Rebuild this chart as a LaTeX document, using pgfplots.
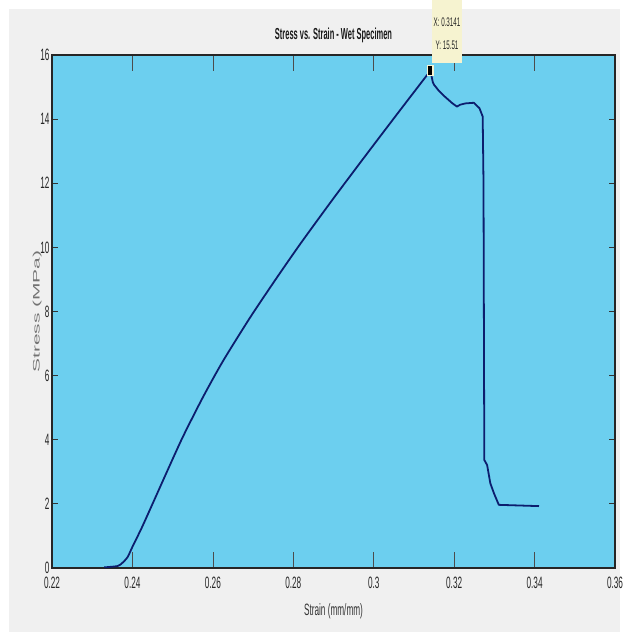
\documentclass[border=0pt]{standalone}
\usepackage{pgfplots}
\pgfplotsset{compat=1.18}
\usepackage{fontspec}
\setmainfont[FakeStretch=0.5]{Liberation Sans}
\newfontfamily\ylfont{Liberation Sans}
\newfontfamily\titlefont[FakeStretch=0.47]{Liberation Sans Bold}
\definecolor{figbg}{RGB}{240,240,240}
\definecolor{axbg}{RGB}{108,207,239}
\definecolor{curve}{RGB}{12,30,110}
\definecolor{tipbg}{RGB}{246,243,208}
\begin{document}
\begin{tikzpicture}
\fill[white] (-52bp,-64bp) rectangle (588bp,568bp);
\fill[figbg] (-43bp,-64bp) rectangle (568bp,559bp);
\begin{axis}[
  at={(0,0)}, anchor=south west,
  scale only axis, width=563bp, height=513bp,
  xmin=0.22, xmax=0.36, ymin=0, ymax=16,
  axis background/.style={fill=axbg},
  axis line style={draw=black!85, line width=1.2pt},
  xtick={0.22,0.24,...,0.36},
  xticklabels={0.22,0.24,0.26,0.28,0.3,0.32,0.34,0.36},
  ytick={0,2,...,16},
  yticklabels={0,2,4,6,8,10,12,14,16},
  tick align=inside,
  xtick style={draw=black!70, line width=0.6pt, /pgfplots/major tick length=16bp},
  ytick style={draw=black!80, line width=0.9pt, /pgfplots/major tick length=6bp},
  tick label style={font=\fontsize{16.5}{16.5}\selectfont, text=black!85},
  xticklabel style={yshift=-6bp},
  yticklabel style={xshift=1bp},
  title={\titlefont\fontsize{16}{16}\selectfont Stress vs. Strain - Wet Specimen},
  title style={at={(0.5,1)}, yshift=3bp, text=black!90},
  xlabel={\fontsize{16.5}{16.5}\selectfont Strain (mm/mm)},
  xlabel style={yshift=-8bp, text=black!80},
  ylabel={\scalebox{1}[0.45]{\ylfont\fontsize{21}{21}\selectfont Stress (MPa)}},
  ylabel style={yshift=-8bp, text=black!55},
  clip=false,
]
\addplot[color=curve, line width=1.8pt, line join=round, smooth, tension=0.4] coordinates {
(0.2330,0.02) (0.2363,0.06) (0.2375,0.16) (0.2388,0.34) (0.2400,0.66)
(0.2423,1.25) (0.2450,2.00) (0.24875,3.05) (0.2525,4.08) (0.2575,5.32)
(0.2625,6.45) (0.26925,7.81) (0.2755,8.98) (0.28175,10.11) (0.2900,11.53)
(0.2985,12.95) (0.30675,14.31) (0.3141,15.51)
};
\addplot[color=curve, line width=1.8pt, line join=round] coordinates {
(0.3141,15.51)
(0.3147,15.15) (0.3150,15.07) (0.3161,14.90) (0.3177,14.70) (0.3195,14.50)
(0.3207,14.39) (0.3215,14.45) (0.3228,14.49) (0.3249,14.51) (0.3263,14.34)
(0.3271,14.08) (0.3273,12.00) (0.3275,3.37) (0.3282,3.21) (0.3290,2.64)
(0.3299,2.33) (0.3311,1.97) (0.3411,1.93)
};
\addplot[only marks, mark=square*, mark size=5bp,
  mark options={fill=black, draw=tipbg, line width=1.5pt, xscale=0.55}]
  coordinates {(0.3141,15.51)};
\end{axis}
\fill[tipbg] (380bp,505bp) rectangle (410bp,568bp);
\node[font=\fontsize{12.5}{12.5}\selectfont, text=black!85] at (395bp,546bp) {X: 0.3141};
\node[font=\fontsize{12.5}{12.5}\selectfont, text=black!85] at (395bp,523bp) {Y: 15.51};
\end{tikzpicture}
\end{document}
